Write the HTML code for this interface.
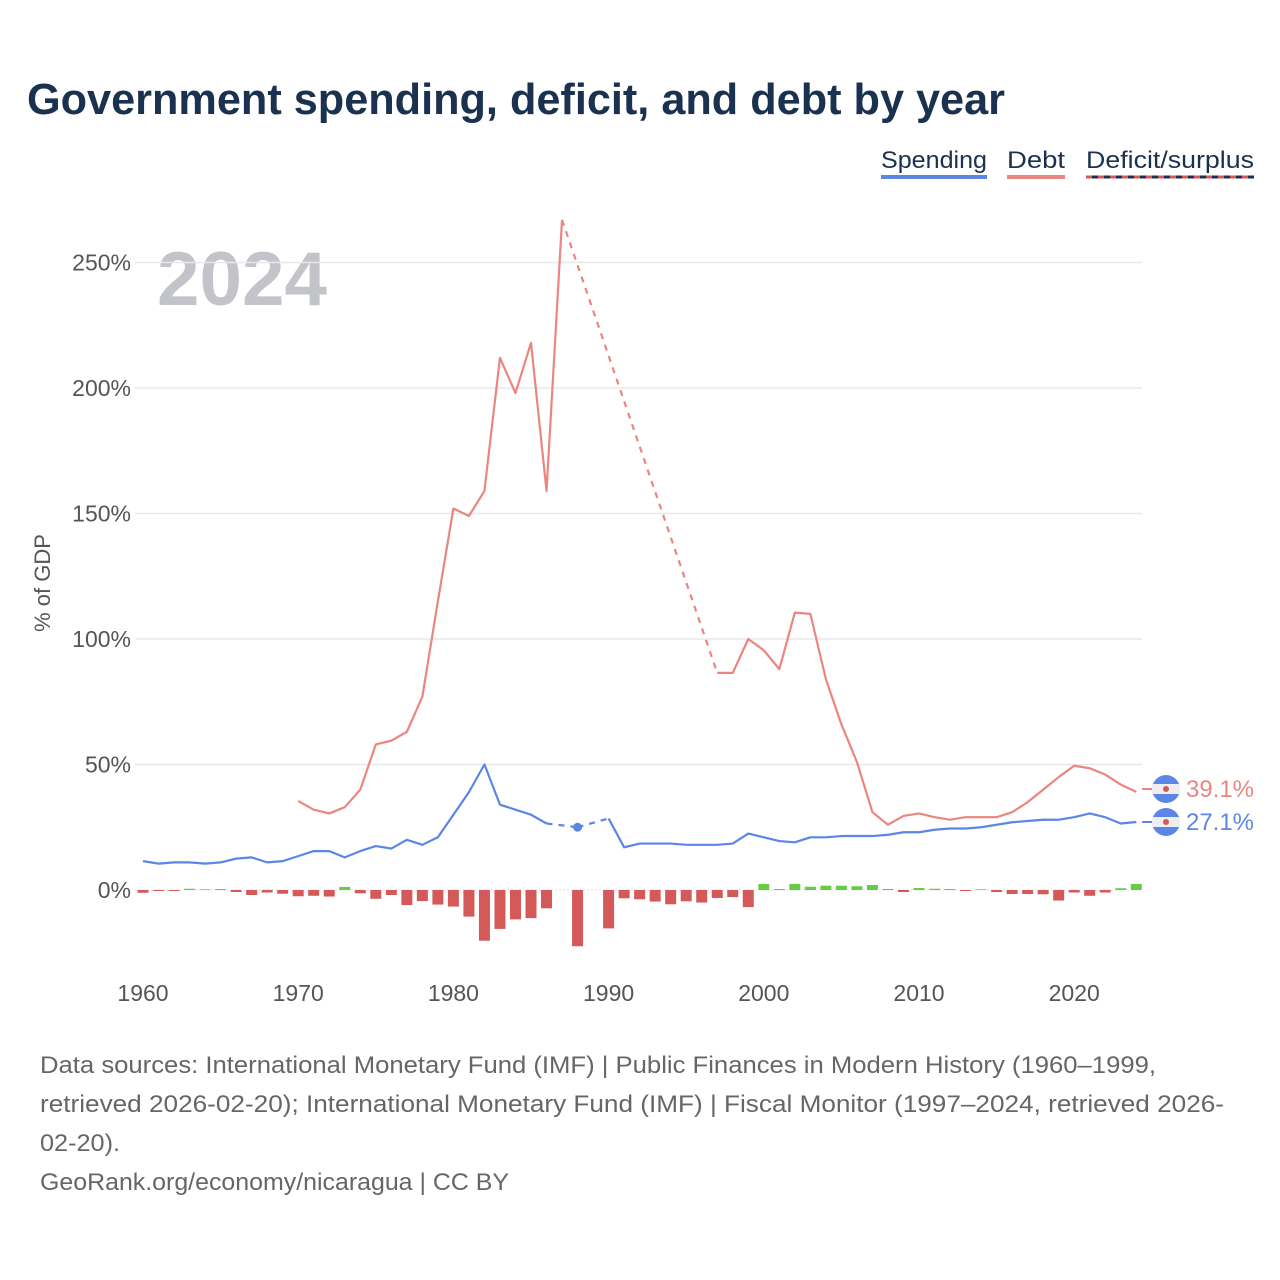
<!DOCTYPE html>
<html><head><meta charset="utf-8"><style>
html,body{margin:0;padding:0;background:#fff;}
svg{display:block;font-family:"Liberation Sans",sans-serif;}
</style></head><body>
<svg id="chart" width="1280" height="1280" viewBox="0 0 1280 1280">
<text x="27" y="114" font-size="44" font-weight="bold" fill="#1a3150" textLength="978" lengthAdjust="spacingAndGlyphs">Government spending, deficit, and debt by year</text>
<g>
<g><text x="881" y="168" font-size="24" fill="#1a3150" textLength="106" lengthAdjust="spacingAndGlyphs">Spending</text><rect x="881" y="175" width="106" height="4" fill="#5b86e5"/></g>
<g><text x="1007" y="168" font-size="24" fill="#1a3150" textLength="58" lengthAdjust="spacingAndGlyphs">Debt</text><rect x="1007" y="175" width="58" height="4" fill="#eb8580"/></g>
<g><text x="1086" y="168" font-size="24" fill="#1a3150" textLength="168" lengthAdjust="spacingAndGlyphs">Deficit/surplus</text><line x1="1086" y1="177" x2="1254" y2="177" stroke="#1a3150" stroke-width="3"/><line x1="1086" y1="177" x2="1254" y2="177" stroke="#d45a5a" stroke-width="3" stroke-dasharray="6,6"/></g>
</g>
<text x="157" y="305" font-size="76" font-weight="bold" fill="#c2c4c9" textLength="170" lengthAdjust="spacingAndGlyphs">2024</text>
<text transform="translate(50,583) rotate(-90)" text-anchor="middle" font-size="22" fill="#555">% of GDP</text>
<g id="grid"></g><g id="bars"></g><g id="lines"></g><g id="xt"></g>
<g>
<line x1="1142" y1="789" x2="1152" y2="789" stroke="#eb8580" stroke-width="2"/>
<circle cx="1166" cy="789" r="14" fill="#5b86e5"/><rect x="1152" y="784" width="28" height="10" fill="#eee"/><circle cx="1166" cy="789" r="3" fill="#d45a5a"/>
<text x="1186" y="797" font-size="24" fill="#eb8580" textLength="68" lengthAdjust="spacingAndGlyphs">39.1%</text></g>
<g>
<line x1="1142" y1="822" x2="1152" y2="822" stroke="#5b86e5" stroke-width="2"/>
<circle cx="1166" cy="822" r="14" fill="#5b86e5"/><rect x="1152" y="817" width="28" height="10" fill="#eee"/><circle cx="1166" cy="822" r="3" fill="#d45a5a"/>
<text x="1186" y="830" font-size="24" fill="#5b86e5" textLength="68" lengthAdjust="spacingAndGlyphs">27.1%</text></g>
<g font-size="24" fill="#666">
<text x="40" y="1073" textLength="1116" lengthAdjust="spacingAndGlyphs">Data sources: International Monetary Fund (IMF) | Public Finances in Modern History (1960–1999,</text>
<text x="40" y="1112" textLength="1184" lengthAdjust="spacingAndGlyphs">retrieved 2026-02-20); International Monetary Fund (IMF) | Fiscal Monitor (1997–2024, retrieved 2026-</text>
<text x="40" y="1151" textLength="80" lengthAdjust="spacingAndGlyphs">02-20).</text>
<text x="40" y="1190" textLength="469" lengthAdjust="spacingAndGlyphs">GeoRank.org/economy/nicaragua | CC BY</text>
</g>
</svg>
<script>
const years=[];for(let y=1960;y<=2024;y++)years.push(y);
const spending=[11.5,10.5,11,11,10.5,11,12.5,13,11,11.5,13.5,15.5,15.5,13,15.5,17.5,16.5,20,18,21,30,39,50,34,32,30,26.5,null,25,null,28.5,17,18.5,18.5,18.5,18,18,18,18.5,22.5,21,19.5,19,21,21,21.5,21.5,21.5,22,23,23,24,24.5,24.5,25,26,27,27.5,28,28,29,30.5,29,26.5,27.1];
const debt=[null,null,null,null,null,null,null,null,null,null,35.5,32,30.5,33,40,58,59.5,63,77,115,152,149,159,212,198,218,159,267,null,null,null,null,null,null,null,null,null,86.5,86.5,100,95.5,88,110.5,110,84,66,51,31,26,29.5,30.5,29,28,29,29,29,31,35,40,45,49.5,48.5,46,42,39.1];
const deficit=[-1.1,-0.2,-0.2,0.5,0,0.2,-0.8,-2,-1,-1.5,-2.5,-2.3,-2.6,1.2,-1.3,-3.5,-2,-6,-4.4,-5.8,-6.6,-10.6,-20.2,-15.5,-11.7,-11.2,-7.3,null,-22.4,null,-15.3,-3.3,-3.7,-4.6,-5.7,-4.5,-5,-3.2,-2.8,-6.8,2.4,0.2,2.4,1.3,1.7,1.7,1.5,2,0.3,-0.8,0.8,0.5,0.3,-0.2,0,-0.8,-1.6,-1.6,-1.7,-4.2,-1,-2.3,-1,0.7,2.4];
const yTicks=[0,50,100,150,200,250];
const xTicks=[1960,1970,1980,1990,2000,2010,2020];
const X=y=>143+15.52*(y-1960), Y=v=>890-2.51*v;
const NS="http://www.w3.org/2000/svg";
function mk(tag,parent,attrs){const e=document.createElementNS(NS,tag);for(const k in attrs)e.setAttribute(k,attrs[k]);document.getElementById(parent).appendChild(e);return e;}
yTicks.forEach(t=>{
 const l=mk('line','grid',{x1:135,x2:1142,y1:Y(t),y2:Y(t),stroke:t===0?'#ddd':'#e8e8e8','stroke-width':t===0?1:1.5,'stroke-dasharray':t===0?'2,2':''});
 
 
 const tx=mk('text','grid',{x:131,y:Y(t)+8,'text-anchor':'end','font-size':23,fill:'#555'});tx.textContent=t+'%';
 
 
});
xTicks.forEach(t=>{const tx=mk('text','xt',{x:X(t),y:1001,'text-anchor':'middle','font-size':23,fill:'#555'});tx.textContent=t;
 
 });
deficit.forEach((v,i)=>{if(v===null)return;const h=Math.max(Math.abs(v)*2.51,1);
 const r=mk('rect','bars',{x:X(years[i])-5.5,width:11,y:v>=0?Y(v)-(v*2.51<1?1-v*2.51:0):Y(0),height:h,fill:v>0.1?'#66cc44':(v<-0.1?'#d45a5a':'#bbb')});
 
 });
function drawLine(arr,color,name){
 let segs=[],cur=[];arr.forEach((v,i)=>{if(v===null){if(cur.length)segs.push(cur);cur=[];}else cur.push([X(years[i]),Y(v)]);});if(cur.length)segs.push(cur);
 segs.forEach((s,k)=>{
  if(s.length>1){const p=mk('path','lines',{d:'M'+s.map(q=>q.join(',')).join('L'),fill:'none',stroke:color,'stroke-width':2.2,'stroke-linejoin':'round'});
   
   }
  else {const c=mk('circle','lines',{cx:s[0][0],cy:s[0][1],r:4.5,fill:color});
   
   }
  if(k>0){const a=segs[k-1][segs[k-1].length-1],b=s[0];
   const g=mk('line','lines',{x1:a[0],y1:a[1],x2:b[0],y2:b[1],stroke:color,'stroke-width':2.2,'stroke-dasharray':'6,6'});
   
   }
 });
}
drawLine(debt,'#eb8580','debt');
drawLine(spending,'#5b86e5','spending');
</script>
</body></html>
